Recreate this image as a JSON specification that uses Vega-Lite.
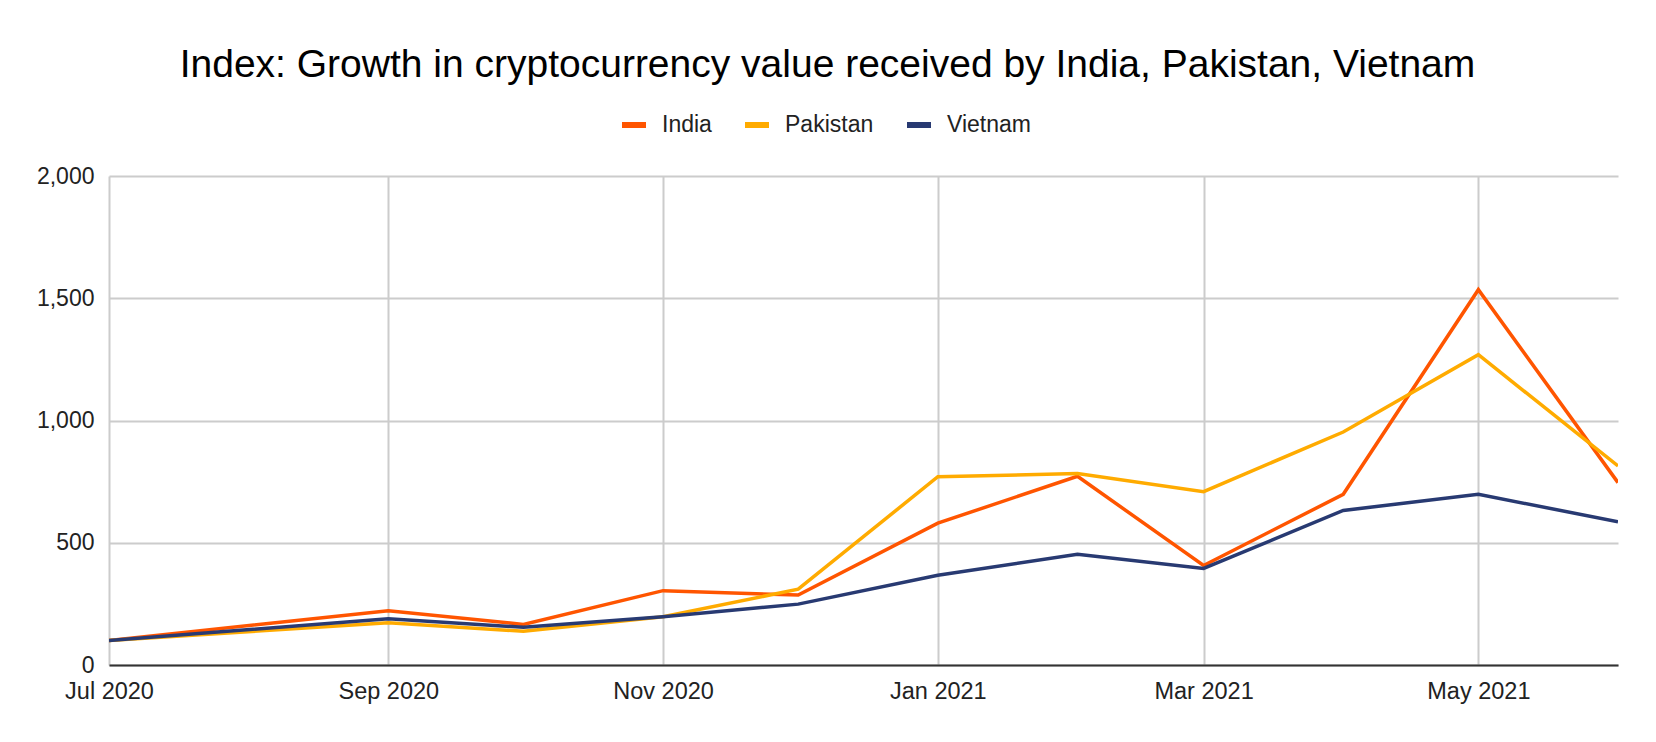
{
  "$schema": "https://vega.github.io/schema/vega-lite/v6.json",
  "width": 1509,
  "height": 489,
  "autosize": {"type": "none"},
  "padding": {"left": 109, "top": 176, "right": 38, "bottom": 77},
  "background": "white",
  "title": {
    "text": "Index: Growth in cryptocurrency value received by India, Pakistan, Vietnam",
    "font": "Liberation Sans",
    "fontSize": 39,
    "fontWeight": "normal",
    "color": "#000000",
    "anchor": "middle",
    "baseline": "alphabetic",
    "offset": 34,
    "dx": -36,
    "dy": 40
  },
  "data": {
    "values": [
      {"month": "2020-07-01", "country": "India", "value": 100},
      {"month": "2020-09-01", "country": "India", "value": 222},
      {"month": "2020-10-01", "country": "India", "value": 166},
      {"month": "2020-11-01", "country": "India", "value": 304},
      {"month": "2020-12-01", "country": "India", "value": 286},
      {"month": "2021-01-01", "country": "India", "value": 580},
      {"month": "2021-02-01", "country": "India", "value": 772},
      {"month": "2021-03-01", "country": "India", "value": 407},
      {"month": "2021-04-01", "country": "India", "value": 698},
      {"month": "2021-05-01", "country": "India", "value": 1535},
      {"month": "2021-06-01", "country": "India", "value": 746},
      {"month": "2020-07-01", "country": "Pakistan", "value": 100},
      {"month": "2020-09-01", "country": "Pakistan", "value": 173},
      {"month": "2020-10-01", "country": "Pakistan", "value": 138},
      {"month": "2020-11-01", "country": "Pakistan", "value": 197},
      {"month": "2020-12-01", "country": "Pakistan", "value": 310},
      {"month": "2021-01-01", "country": "Pakistan", "value": 770},
      {"month": "2021-02-01", "country": "Pakistan", "value": 783},
      {"month": "2021-03-01", "country": "Pakistan", "value": 709},
      {"month": "2021-04-01", "country": "Pakistan", "value": 953},
      {"month": "2021-05-01", "country": "Pakistan", "value": 1269},
      {"month": "2021-06-01", "country": "Pakistan", "value": 814},
      {"month": "2020-07-01", "country": "Vietnam", "value": 100},
      {"month": "2020-09-01", "country": "Vietnam", "value": 189},
      {"month": "2020-10-01", "country": "Vietnam", "value": 154},
      {"month": "2020-11-01", "country": "Vietnam", "value": 197},
      {"month": "2020-12-01", "country": "Vietnam", "value": 249},
      {"month": "2021-01-01", "country": "Vietnam", "value": 367},
      {"month": "2021-02-01", "country": "Vietnam", "value": 453},
      {"month": "2021-03-01", "country": "Vietnam", "value": 395},
      {"month": "2021-04-01", "country": "Vietnam", "value": 632},
      {"month": "2021-05-01", "country": "Vietnam", "value": 698},
      {"month": "2021-06-01", "country": "Vietnam", "value": 586}
    ]
  },
  "mark": {"type": "line", "strokeWidth": 3.5, "strokeJoin": "miter", "clip": true},
  "encoding": {
    "x": {
      "field": "month",
      "type": "temporal",
      "title": null,
      "scale": {
        "type": "utc",
        "domain": [
          {"year": 2020, "month": "jul", "date": 1, "utc": true},
          {"year": 2021, "month": "jun", "date": 1, "utc": true}
        ]
      },
      "axis": {
        "values": [
          {"year": 2020, "month": "jul", "date": 1, "utc": true},
          {"year": 2020, "month": "sep", "date": 1, "utc": true},
          {"year": 2020, "month": "nov", "date": 1, "utc": true},
          {"year": 2021, "month": "jan", "date": 1, "utc": true},
          {"year": 2021, "month": "mar", "date": 1, "utc": true},
          {"year": 2021, "month": "may", "date": 1, "utc": true}
        ],
        "format": "%b %Y",
        "labelFont": "Liberation Sans",
        "labelFontSize": 23.5,
        "labelColor": "#222222",
        "labelPadding": 14,
        "labelFlush": false,
        "labelOverlap": false,
        "ticks": false,
        "domain": true,
        "domainColor": "#333333",
        "domainWidth": 2,
        "grid": true,
        "gridColor": "#cccccc",
        "gridWidth": 2
      }
    },
    "y": {
      "field": "value",
      "type": "quantitative",
      "title": null,
      "scale": {"domain": [0, 2000], "nice": false},
      "axis": {
        "values": [0, 500, 1000, 1500, 2000],
        "format": ",d",
        "labelFont": "Liberation Sans",
        "labelFontSize": 23,
        "labelColor": "#222222",
        "labelPadding": 15,
        "ticks": false,
        "domain": false,
        "grid": true,
        "gridColor": "#cccccc",
        "gridWidth": 2
      }
    },
    "color": {
      "field": "country",
      "type": "nominal",
      "scale": {
        "domain": ["India", "Pakistan", "Vietnam"],
        "range": ["#ff5500", "#ffab00", "#283a72"]
      },
      "legend": {
        "title": null,
        "orient": "none",
        "direction": "horizontal",
        "legendX": 510,
        "legendY": -66,
        "symbolType": "stroke",
        "symbolSize": 576,
        "symbolStrokeWidth": 6,
        "labelFont": "Liberation Sans",
        "labelFontSize": 23,
        "labelColor": "#222222",
        "labelOffset": 13,
        "columnPadding": 21
      }
    }
  },
  "config": {"view": {"stroke": null}}
}
